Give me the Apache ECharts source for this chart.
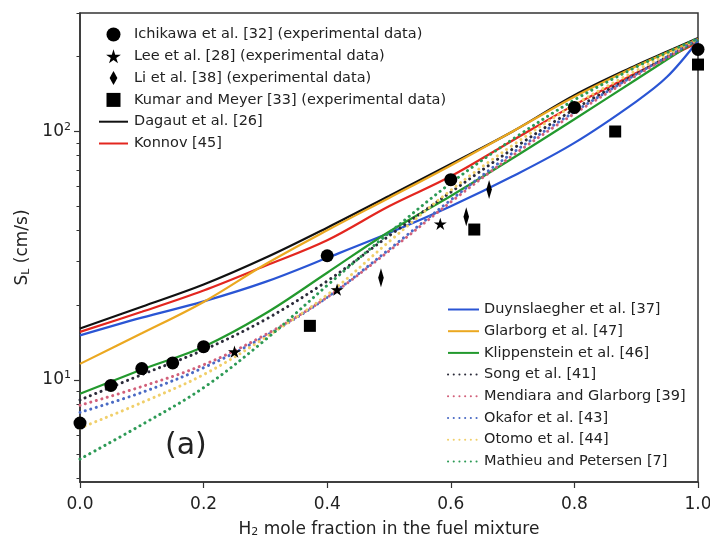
<!DOCTYPE html>
<html>
<head>
<meta charset="utf-8">
<script src="https://cdn.jsdelivr.net/npm/echarts@6/dist/echarts.min.js"></script>
<style>
  html, body { margin: 0; padding: 0; background: #fff; }
  #main { width: 710px; height: 536px; }
</style>
</head>
<body>
<div id="main"></div>
<script>
// H2 mole fraction where the model curves were read
var xModel = [0, 0.1, 0.2, 0.3, 0.4, 0.5, 0.6, 0.7, 0.8, 0.9, 0.95, 1.0];

// model curves, S_L in cm/s
var dagaut = [16.1, 19.7, 24.2, 31, 41, 55, 74, 100, 140, 185, 210, 238];
var konnov = [15.6, 18.8, 22.9, 28.8, 36.5, 50, 66, 92, 128, 172, 198, 228];
var duynslaegher = [15.1, 17.8, 20.7, 24.8, 31, 39, 50, 66, 90, 132, 166, 232];
var glarborg = [11.6, 15.4, 20.6, 29.2, 40, 54, 73, 100, 138, 183, 208, 236];
var klippenstein = [8.8, 11, 13.6, 18.5, 27, 39.5, 55, 78, 112, 162, 195, 234];
var song = [8.3, 10.5, 13.2, 17.5, 25, 38, 57, 85, 123, 170, 200, 234];
var mendiara = [7.9, 9.4, 11.5, 15.2, 21.5, 33, 52, 80, 118, 168, 198, 234];
var okafor = [7.4, 8.9, 11.2, 15, 21.5, 33.5, 53, 82, 120, 170, 200, 236];
var otomo = [6.4, 8.1, 10.5, 14.8, 22, 36, 58, 88, 128, 176, 204, 236];
var mathieu = [4.8, 6.6, 9.3, 14.5, 24, 39, 62, 93, 134, 182, 208, 237];

// experimental points
var ichikawaX = [0, 0.05, 0.1, 0.15, 0.2, 0.4, 0.6, 0.8, 1.0];
var ichikawaY = [6.7, 9.5, 11.1, 11.7, 13.6, 31.6, 64, 125, 214];
var leeX = [0.25, 0.416, 0.583];
var leeY = [13.0, 23.1, 42.5];
var liX = [0.487, 0.625, 0.662];
var liY = [25.8, 45.4, 58.4];
var kumarX = [0.372, 0.638, 0.866, 1.0];
var kumarY = [16.5, 40.3, 100, 186];

var xTicks = [0, 0.2, 0.4, 0.6, 0.8, 1.0];
var yMajorTicks = [10, 100];
var yMinorTicks = [4, 5, 6, 7, 8, 9, 20, 30, 40, 50, 60, 70, 80, 90, 200, 300];

var expNames = [
  "Ichikawa et al. [32] (experimental data)",
  "Lee et al. [28] (experimental data)",
  "Li et al. [38] (experimental data)",
  "Kumar and Meyer [33] (experimental data)",
];
var topLineNames = ["Dagaut et al. [26]", "Konnov [45]"];
var bottomNames = [
  "Duynslaegher et al. [37]",
  "Glarborg et al. [47]",
  "Klippenstein et al. [46]",
  "Song et al. [41]",
  "Mendiara and Glarborg [39]",
  "Okafor et al. [43]",
  "Otomo et al. [44]",
  "Mathieu and Petersen [7]",
];

function pairs(xs, ys) {
  return xs.map(function (x, i) { return [x, ys[i]]; });
}

var FONT = "DejaVu Sans";
var STAR = "path://M50,0 L61,35 L98,35 L68,57 L79,91 L50,70 L21,91 L32,57 L2,35 L39,35 Z";
var DIAMOND = "path://M5,0 L10,9 L5,18 L0,9 Z";
var SQUARE = "path://M0,0 L10,0 L10,10 L0,10 Z";

function modelLine(name, ys, color, dotted) {
  return {
    name: name,
    type: "line",
    data: pairs(xModel, ys),
    symbol: "none",
    smooth: 0.35,
    color: color,
    lineStyle: {
      color: color,
      width: dotted ? 3 : 2.2,
      type: dotted ? [0.1, 5.6] : "solid",
      cap: dotted ? "round" : "butt",
    },
    z: dotted ? 3 : 2,
  };
}

function points(name, xs, ys, symbol, size) {
  return {
    name: name,
    type: "scatter",
    data: pairs(xs, ys),
    symbol: symbol,
    symbolSize: size,
    symbolKeepAspect: true,
    itemStyle: { color: "#000", opacity: 1 },
    color: "#000",
    z: 6,
  };
}

// line legend entries: hide the symbol ECharts puts on the line icon
function lineItem(name) {
  return { name: name, itemStyle: { opacity: 0 } };
}

var chart = echarts.init(document.getElementById("main"), null, { renderer: "canvas" });

var option = {
  backgroundColor: "#fff",
  animation: false,
  textStyle: { fontFamily: FONT },
  grid: {
    left: 80, right: 12, top: 13, bottom: 54,
    outerBoundsMode: "none",
    containLabel: false,
    show: true, borderColor: "#333", borderWidth: 1.5,
  },
  legend: [
    {
      orient: "vertical",
      left: 93,
      top: 22,
      itemWidth: 29,
      itemHeight: 14,
      itemGap: 6.8,
      textStyle: { fontFamily: FONT, fontSize: 14.5, color: "#222", padding: [0, 0, 0, 1] },
      data: expNames.concat(topLineNames.map(lineItem)),
    },
    {
      orient: "vertical",
      left: 442,
      top: 297,
      itemWidth: 31,
      itemHeight: 14,
      itemGap: 6.7,
      textStyle: { fontFamily: FONT, fontSize: 14.5, color: "#222", padding: [0, 0, 0, 0] },
      data: bottomNames.map(lineItem),
    },
  ],
  xAxis: {
    type: "value",
    min: 0,
    max: 1,
    interval: 0.2,
    name: "H{sub|2} mole fraction in the fuel mixture",
    nameLocation: "middle",
    nameGap: 39,
    nameTextStyle: {
      fontFamily: FONT, fontSize: 17, color: "#222",
      rich: { sub: { fontFamily: FONT, fontSize: 11, color: "#222", padding: [6, 0, 0, 0] } },
    },
    axisLine: { show: true, lineStyle: { color: "#333", width: 1.5 } },
    axisTick: { show: true, inside: false, length: 6, lineStyle: { color: "#333", width: 1.2 }, customValues: xTicks },
    axisLabel: {
      fontFamily: FONT, fontSize: 17, color: "#222", margin: 14,
      customValues: xTicks,
      formatter: function (v) { return v.toFixed(1); },
    },
    splitLine: { show: false },
  },
  yAxis: [
    {
      type: "log",
      logBase: 10,
      min: 3.88,
      max: 300,
      name: "S{sub|L} (cm/s)",
      nameLocation: "middle",
      nameRotate: 90,
      nameGap: 48,
      nameTextStyle: {
        fontFamily: FONT, fontSize: 17, color: "#222",
        rich: { sub: { fontFamily: FONT, fontSize: 11, color: "#222", padding: [6, 0, 0, 0] } },
      },
      axisLine: { show: true, lineStyle: { color: "#333", width: 1.5 } },
      axisTick: { show: true, inside: false, length: 6, lineStyle: { color: "#333", width: 1.2 }, customValues: yMajorTicks },
      axisLabel: {
        customValues: yMajorTicks,
        margin: 9,
        formatter: function (v) { return "{b|10}{sup|" + Math.round(Math.log10(v)) + "}"; },
        rich: {
          b: { fontFamily: FONT, fontSize: 17, color: "#222" },
          sup: { fontFamily: FONT, fontSize: 11, color: "#222", padding: [0, 0, 9, 0] },
        },
      },
      splitLine: { show: false },
    },
    {
      type: "log",
      logBase: 10,
      min: 3.88,
      max: 300,
      position: "left",
      axisLine: { show: false },
      axisTick: { show: true, inside: false, length: 3.5, lineStyle: { color: "#333", width: 1 }, customValues: yMinorTicks },
      axisLabel: { show: false },
      splitLine: { show: false },
    },
  ],
  graphic: [
    {
      type: "text",
      left: 165,
      top: 431,
      style: { text: "(a)", fontFamily: FONT, fontSize: 30, fill: "#222" },
    },
  ],
  series: [
    points(expNames[0], ichikawaX, ichikawaY, "circle", 13),
    points(expNames[1], leeX, leeY, STAR, 13),
    points(expNames[2], liX, liY, DIAMOND, [10, 19]),
    points(expNames[3], kumarX, kumarY, SQUARE, 12),
    modelLine(topLineNames[0], dagaut, "#111111", false),
    modelLine(topLineNames[1], konnov, "#e3261f", false),
    modelLine(bottomNames[0], duynslaegher, "#2a55d4", false),
    modelLine(bottomNames[1], glarborg, "#eba820", false),
    modelLine(bottomNames[2], klippenstein, "#23992e", false),
    modelLine(bottomNames[3], song, "#2b2b3a", true),
    modelLine(bottomNames[4], mendiara, "#d2607a", true),
    modelLine(bottomNames[5], okafor, "#4a6ac4", true),
    modelLine(bottomNames[6], otomo, "#f0cf6a", true),
    modelLine(bottomNames[7], mathieu, "#2c9a55", true),
  ],
};

chart.setOption(option);
</script>
</body>
</html>
